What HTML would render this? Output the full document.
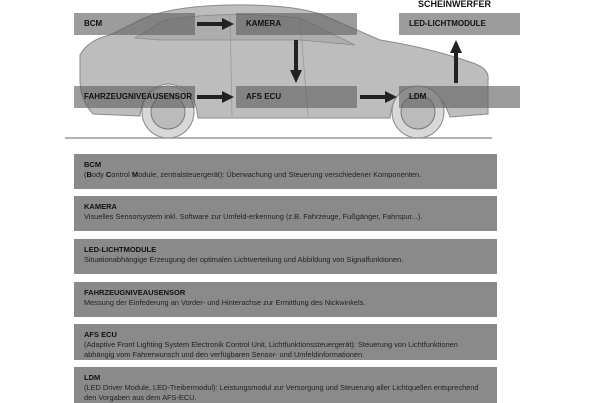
<!DOCTYPE html>
<html><head><meta charset="utf-8"><style>
body{margin:0;width:600px;height:400px;background:#fff;position:relative;overflow:hidden;font-family:"Liberation Sans",sans-serif}
.t{position:absolute;height:22px;background:rgba(95,95,95,0.62);color:#111;font-weight:bold;font-size:8px;line-height:22px;padding-left:10px;box-sizing:border-box}
.d{position:absolute;left:74px;width:423px;background:#8a8a8a;color:#222;font-size:7.4px;line-height:10px;padding:6px 0 0 10px;box-sizing:border-box}
.d b{font-size:7.5px;color:#111}
</style></head><body>
<svg width="600" height="150" style="position:absolute;left:0;top:0">
<path d="M80,55 Q88,40 110,35 L140,20 Q170,6 230,5 Q290,4 320,14 L380,40 Q430,48 470,62 Q490,68 488,80 L488,114 L450,117 Q440,88 418,86 Q393,88 390,118 L198,118 Q195,86 168,84 Q143,86 140,116 L93,114 Q80,100 80,80 Z" fill="#bdbdbd" stroke="#8a8a8a" stroke-width="1"/>
<path d="M135,38 L165,20 Q230,10 300,18 L355,45 L300,40 L160,40 Z" fill="#adadad" stroke="#8a8a8a" stroke-width="0.8"/>
<line x1="230" y1="14" x2="232" y2="116" stroke="#999" stroke-width="0.8"/>
<line x1="300" y1="20" x2="308" y2="116" stroke="#999" stroke-width="0.8"/>
<circle cx="168" cy="112" r="26" fill="#d8d8d8" stroke="#888"/>
<circle cx="168" cy="112" r="17" fill="#bbb" stroke="#777"/>
<circle cx="418" cy="112" r="26" fill="#d8d8d8" stroke="#888"/>
<circle cx="418" cy="112" r="17" fill="#bbb" stroke="#777"/>
<line x1="65" y1="138" x2="492" y2="138" stroke="#999" stroke-width="1.5"/>
<g fill="#222">
<path d="M197,22 h25 v-4 l12,6 l-12,6 v-4 h-25z"/>
<path d="M197,95 h25 v-4 l12,6 l-12,6 v-4 h-25z"/>
<path d="M360,95 h25 v-4 l12,6 l-12,6 v-4 h-25z"/>
<path d="M294,40 v30 h-4 l6,13 l6,-13 h-4 v-30z"/>
<path d="M454,83 v-30 h-4 l6,-13 l6,13 h-4 v30z"/>
</g>
</svg>
<div style="position:absolute;left:418px;top:-1px;font-weight:bold;font-size:9px;color:#111">SCHEINWERFER</div>
<div class="t" style="left:74px;top:13px;width:121px">BCM</div>
<div class="t" style="left:236px;top:13px;width:121px">KAMERA</div>
<div class="t" style="left:399px;top:13px;width:121px">LED-LICHTMODULE</div>
<div class="t" style="left:74px;top:86px;width:121px">FAHRZEUGNIVEAUSENSOR</div>
<div class="t" style="left:236px;top:86px;width:121px">AFS ECU</div>
<div class="t" style="left:399px;top:86px;width:121px">LDM</div>
<div class="d" style="top:154px;height:35px"><b>BCM</b><br>(<b>B</b>ody <b>C</b>ontrol <b>M</b>odule, zentralsteuergerät): Überwachung und Steuerung verschiedener Komponenten.</div>
<div class="d" style="top:196px;height:35px"><b>KAMERA</b><br>Visuelles Sensorsystem inkl. Software zur Umfeld-erkennung (z.B. Fahrzeuge, Fußgänger, Fahrspur...).</div>
<div class="d" style="top:239px;height:35px"><b>LED-LICHTMODULE</b><br>Situationabhängige Erzeugung der optimalen Lichtverteilung und Abbildung von Signalfunktionen.</div>
<div class="d" style="top:282px;height:35px"><b>FAHRZEUGNIVEAUSENSOR</b><br>Messung der Einfederung an Vorder- und Hinterachse zur Ermittlung des Nickwinkels.</div>
<div class="d" style="top:324px;height:36px"><b>AFS ECU</b><br>(Adaptive Front Lighting System Electronik Control Unit, Lichtfunktionssteuergerät): Steuerung von Lichtfunktionen<br>abhängig vom Fahrerwunsch und den verfügbaren Sensor- und Umfeldinformationen.</div>
<div class="d" style="top:367px;height:36px"><b>LDM</b><br>(LED Driver Module, LED-Treibermodul): Leistungsmodul zur Versorgung und Steuerung aller Lichtquellen entsprechend<br>den Vorgaben aus  dem AFS-ECU.</div>
</body></html>
